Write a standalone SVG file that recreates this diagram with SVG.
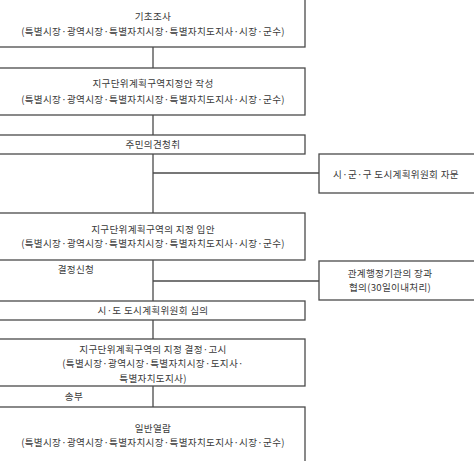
<svg xmlns="http://www.w3.org/2000/svg" width="474" height="461" viewBox="0 0 474 461">
<style>
.box{fill:#fff;stroke:#4a4a4a;stroke-width:1.3}
.ln{stroke:#4a4a4a;stroke-width:1.3;fill:none}
text{font-family:"Noto Sans CJK KR","Noto Sans",sans-serif;font-size:9.6px;fill:#3a3a3a;text-anchor:middle;dominant-baseline:central;letter-spacing:0.3px}
</style>
<rect width="474" height="461" fill="#fff"/>
<g id="connectors">
<line class="ln" x1="153" y1="47" x2="153" y2="68"/>
<line class="ln" x1="153" y1="115" x2="153" y2="135"/>
<line class="ln" x1="153" y1="154" x2="153" y2="213"/>
<line class="ln" x1="153" y1="173" x2="319" y2="173"/>
<line class="ln" x1="153" y1="260" x2="153" y2="301"/>
<line class="ln" x1="153" y1="281" x2="319" y2="281"/>
<line class="ln" x1="153" y1="320" x2="153" y2="339"/>
<line class="ln" x1="153" y1="386" x2="153" y2="407"/>
<text x="76" y="269">결정신청</text>
<text x="74" y="396">송부</text>
</g>
<g id="n1">
<rect class="box" x="-2" y="-3" width="307" height="50"/>
<text x="153" y="16">기초조사</text>
<text x="153" y="31">(특별시장·광역시장·특별자치시장·특별자치도지사·시장·군수)</text>
</g>
<g id="n2">
<rect class="box" x="-2" y="68" width="307" height="47"/>
<text x="153" y="83">지구단위계획구역지정안 작성</text>
<text x="153" y="99">(특별시장·광역시장·특별자치시장·특별자치도지사·시장·군수)</text>
</g>
<g id="n3">
<rect class="box" x="-2" y="135" width="307" height="19"/>
<text x="153" y="144">주민의견청취</text>
</g>
<g id="s1">
<rect class="box" x="319" y="154" width="160" height="39"/>
<text x="396" y="174">시·군·구 도시계획위원회 자문</text>
</g>
<g id="n4">
<rect class="box" x="-2" y="213" width="307" height="47"/>
<text x="153" y="229">지구단위계획구역의 지정 입안</text>
<text x="153" y="243">(특별시장·광역시장·특별자치시장·특별자치도지사·시장·군수)</text>
</g>
<g id="s2">
<rect class="box" x="319" y="261" width="160" height="39"/>
<text x="390" y="273">관계행정기관의 장과</text>
<text x="390" y="287">협의(30일이내처리)</text>
</g>
<g id="n5">
<rect class="box" x="-2" y="301" width="307" height="19"/>
<text x="153" y="310">시·도 도시계획위원회 심의</text>
</g>
<g id="n6">
<rect class="box" x="-2" y="339" width="307" height="47"/>
<text x="153" y="349">지구단위계획구역의 지정 결정·고시</text>
<text x="153" y="363">(특별시장·광역시장·특별자치시장·도지사·</text>
<text x="153" y="378">특별자치도지사)</text>
</g>
<g id="n7">
<rect class="box" x="-2" y="407" width="307" height="64"/>
<text x="153" y="428">일반열람</text>
<text x="153" y="442">(특별시장·광역시장·특별자치시장·특별자치도지사·시장·군수)</text>
</g>
</svg>
